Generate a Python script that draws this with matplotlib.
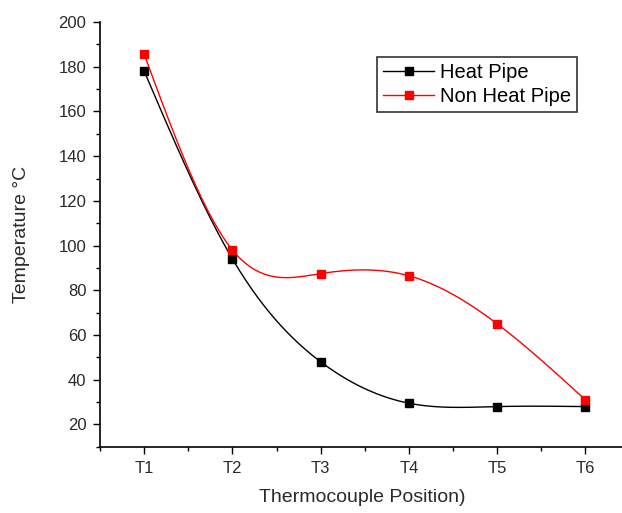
import numpy as np
import matplotlib
matplotlib.use("Agg")
import matplotlib.pyplot as plt
from matplotlib.ticker import MultipleLocator

categories = ["T1", "T2", "T3", "T4", "T5", "T6"]
heat_pipe = [178, 94, 48, 29.5, 28, 28]
non_heat_pipe = [185.5, 98, 87.5, 86.5, 65, 31]

plt.rcParams['font.family'] = ['Liberation Sans', 'DejaVu Sans']


def natural_spline(x, y, n=300):
    x = np.asarray(x, float)
    y = np.asarray(y, float)
    k = len(x)
    h = np.diff(x)
    A = np.zeros((k, k))
    b = np.zeros(k)
    A[0, 0] = 1
    A[-1, -1] = 1
    for i in range(1, k - 1):
        A[i, i - 1] = h[i - 1]
        A[i, i] = 2 * (h[i - 1] + h[i])
        A[i, i + 1] = h[i]
        b[i] = 3 * ((y[i + 1] - y[i]) / h[i] - (y[i] - y[i - 1]) / h[i - 1])
    c = np.linalg.solve(A, b)
    xs = np.linspace(x[0], x[-1], n)
    ys = np.empty_like(xs)
    for j, xv in enumerate(xs):
        i = min(np.searchsorted(x, xv, side='right') - 1, k - 2)
        dx = xv - x[i]
        bi = (y[i + 1] - y[i]) / h[i] - h[i] * (2 * c[i] + c[i + 1]) / 3
        di = (c[i + 1] - c[i]) / (3 * h[i])
        ys[j] = y[i] + bi * dx + c[i] * dx ** 2 + di * dx ** 3
    return xs, ys


fig = plt.figure(figsize=(6.22, 5.13), dpi=100)
ax = fig.add_axes([0.161, 0.129, 0.844, 0.828])

xpos = np.arange(1, len(categories) + 1)
for vals, col, lab in [(heat_pipe, 'black', 'Heat Pipe'), (non_heat_pipe, 'red', 'Non Heat Pipe')]:
    xs, ys = natural_spline(xpos, vals)
    ax.plot(xs, ys, color=col, lw=1.0)
    ax.plot(xpos, vals, 's', color=col, ms=6, ls='none')
    ax.plot([], [], color=col, marker='s', ms=6, lw=1.0, label=lab)

ax.set_xlim(0.5, 6.45)
ax.set_ylim(10, 200)
ax.set_xticks(xpos)
ax.set_xticklabels(categories)
ax.xaxis.set_minor_locator(MultipleLocator(0.5))
ax.yaxis.set_minor_locator(MultipleLocator(10))
ax.set_yticks(np.arange(20, 201, 20))
ax.tick_params(axis='both', which='major', direction='out', length=5, width=1, labelsize=12,
               labelcolor='#2a2a2a', pad=5)
ax.tick_params(axis='both', which='minor', direction='out', length=3, width=1)
for s in ['top', 'right']:
    ax.spines[s].set_visible(False)
for s in ['left', 'bottom']:
    ax.spines[s].set_linewidth(1.2)

ax.set_xlabel('Thermocouple Position)', fontsize=14, color='#2a2a2a')
ax.set_ylabel('Temperature °C', fontsize=14, color='#2a2a2a')
ax.xaxis.set_label_coords(0.5, -0.099)
ax.yaxis.set_label_coords(-0.133, 0.5)

leg = ax.legend(loc='upper left', bbox_to_anchor=(0.528, 0.918), fontsize=14.5, frameon=True,
                fancybox=False, edgecolor='black', handlelength=2.5, handletextpad=0.3,
                borderpad=0.3, labelspacing=0.25, borderaxespad=0)
leg.get_frame().set_linewidth(1.2)

fig.savefig('out.png', dpi=100)
